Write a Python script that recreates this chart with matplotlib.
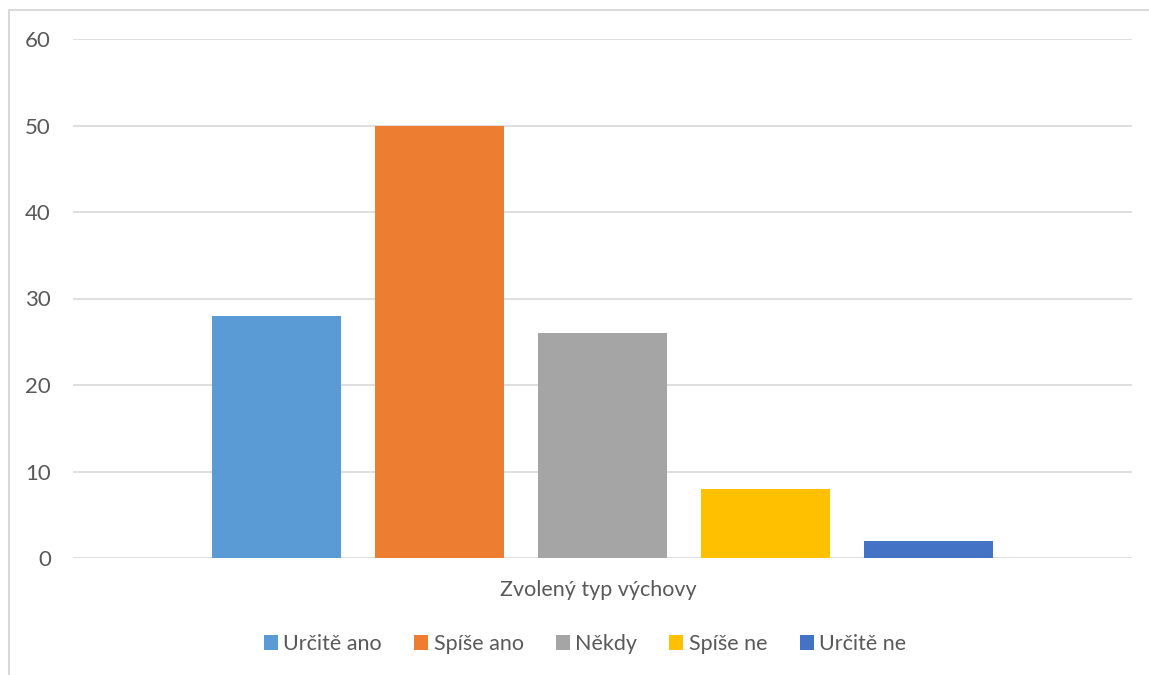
import matplotlib.pyplot as plt
from matplotlib.patches import Rectangle

category = "Zvolený typ výchovy"
series = ["Určitě ano", "Spíše ano", "Někdy", "Spíše ne", "Určitě ne"]
values = [28, 50, 26, 8, 2]
colors = ["#5b9bd5", "#ed7d31", "#a5a5a5", "#ffc000", "#4472c4"]

W, H = 1149, 675
plt.rcParams['font.family'] = ['Lato', 'DejaVu Sans']
fig = plt.figure(figsize=(W / 100, H / 100), dpi=100)

# chart frame
fig.patches.append(Rectangle((8.5 / W, -0.1), (1160 - 8.5) / W, 1.1 - 9.5 / H,
                             transform=fig.transFigure, fill=False,
                             edgecolor="#d9d9d9", linewidth=1.5))

ax = fig.add_axes([73 / W, (H - 558) / H, 1059 / W, (558 - 39) / H])
bw = 129 / 1059
step = 163 / 1059
for i, (name, v, c) in enumerate(zip(series, values, colors)):
    ax.bar((i - 2) * step, v, width=bw, color=c, label=name, zorder=3)

ax.set_xlim(-0.5, 0.5)
ax.set_ylim(0, 60)
ax.set_yticks(range(0, 61, 10))
ax.set_xticks([])
ax.grid(axis='y', color="#d9d9d9", linewidth=1.2, zorder=0)
for s in ax.spines.values():
    s.set_visible(False)
ax.tick_params(axis='y', length=0, pad=16, labelsize=16, labelcolor="#595959")

fig.text(598 / W, 1 - 590 / H, category, ha='center', va='center',
         fontsize=15.5, color="#595959")

ax.legend(loc='center', bbox_to_anchor=(585 / W, 1 - 644 / H),
          bbox_transform=fig.transFigure, ncol=5, frameon=False,
          fontsize=15.5, labelcolor="#595959", handlelength=0.65,
          handleheight=0.65, handletextpad=0.25, columnspacing=1.5)

fig.savefig("out.png", dpi=100)
